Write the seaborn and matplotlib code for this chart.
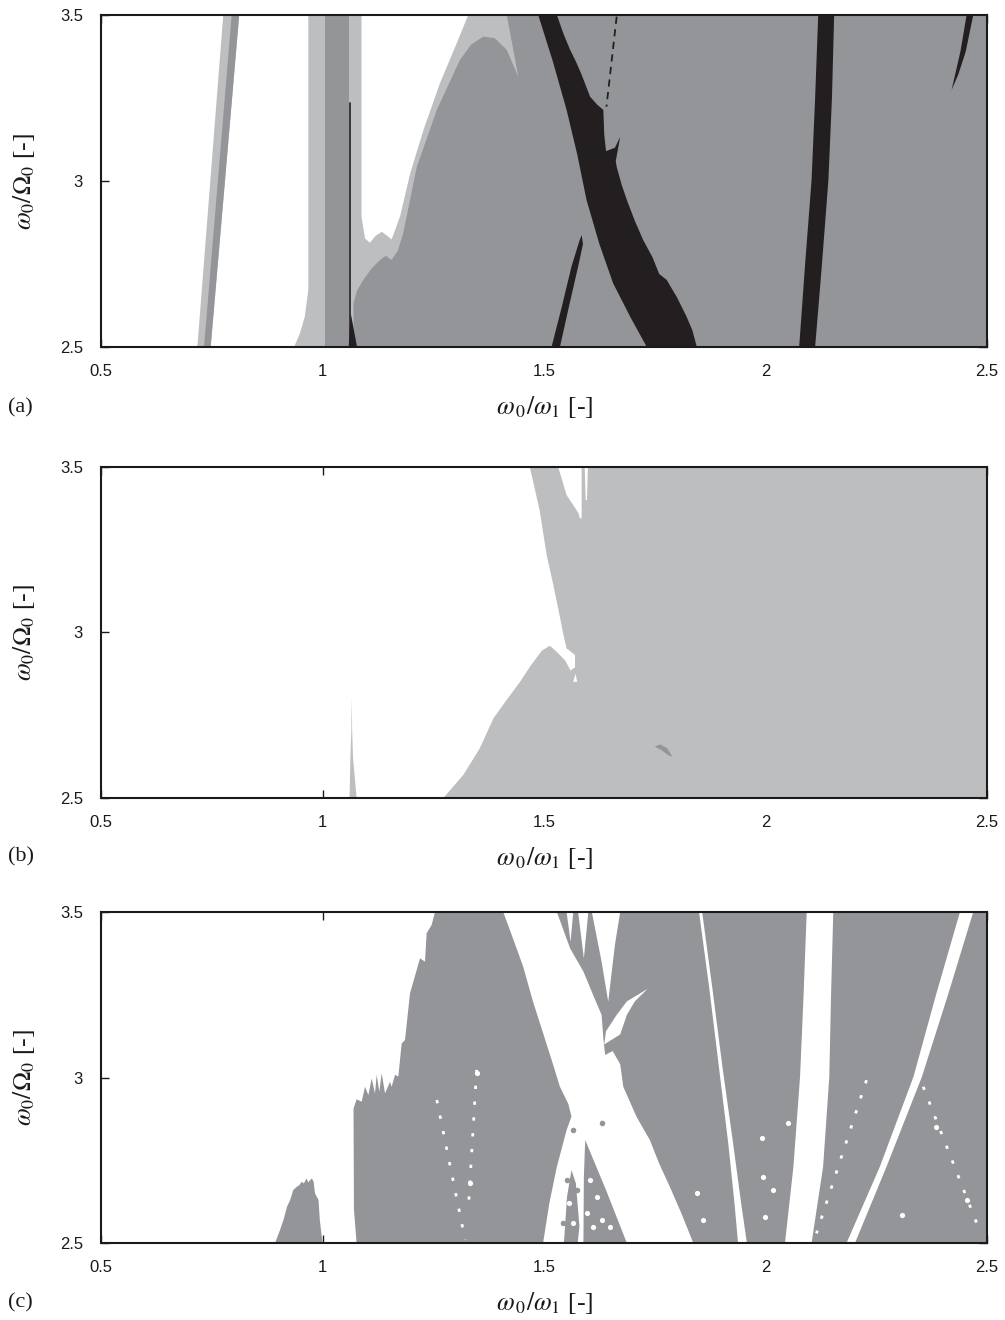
import numpy as np
import matplotlib
matplotlib.use("Agg")
import matplotlib.pyplot as plt
import seaborn as sns

# ---------------- colours ----------------
DARK = "#939598"
LIGHT = "#bcbec0"
BLACK = "#231f20"

# ---------------- axes / ticks ----------------
X_TICKS = [0.5, 1, 1.5, 2, 2.5]
X_TICKLABELS = ["0.5", "1", "1.5", "2", "2.5"]
Y_TICKS = [2.5, 3, 3.5]
Y_TICKLABELS = ["2.5", "3", "3.5"]
PANEL_LABELS = ["(a)", "(b)", "(c)"]
XLABEL = r"$\omega_{\,0}/\omega_1$ [-]"
YLABEL = r"$\omega_0/\Omega_0$ [-]"

# ---------------- panel (a) regions ----------------
A_BAND_LIGHT_X = [0.7175, 0.776, 0.812, 0.7476]
A_BAND_LIGHT_Y = [2.5, 3.5, 3.5, 2.5]
A_BAND_DARK_X = [0.7325, 0.795, 0.812, 0.7476]
A_BAND_DARK_Y = [2.5, 3.5, 3.5, 2.5]

A_LIGHT_X = [0.936, 0.949, 0.960, 0.968, 0.968, 2.5, 2.5]
A_LIGHT_Y = [2.5, 2.541, 2.591, 2.672, 3.5, 3.5, 2.5]

A_DARKBAND_X = [1.006, 1.006, 1.060, 1.060]
A_DARKBAND_Y = [2.5, 3.5, 3.5, 2.5]

A_WHITE_X = [1.088, 1.088, 1.096, 1.107, 1.120, 1.134, 1.146, 1.156, 1.175,
             1.198, 1.228, 1.265, 1.303, 1.329]
A_WHITE_Y = [3.5, 2.893, 2.827, 2.814, 2.835, 2.847, 2.835, 2.824, 2.893,
             3.023, 3.154, 3.294, 3.415, 3.5]

A_DARK_X = [1.070, 2.5, 2.5, 1.416, 1.442, 1.416, 1.389, 1.363, 1.335, 1.310,
            1.258, 1.213, 1.182, 1.170, 1.156, 1.143, 1.130, 1.110, 1.092,
            1.078, 1.070]
A_DARK_Y = [2.5, 2.5, 3.5, 3.5, 3.314, 3.395, 3.430, 3.435, 3.41, 3.364,
            3.214, 3.043, 2.842, 2.79, 2.762, 2.775, 2.762, 2.735, 2.702,
            2.67, 2.632]

A_BLINE_X = [1.062, 1.062]
A_BLINE_Y = [2.5, 3.235]
A_BTRI_X = [1.059, 1.064, 1.078]
A_BTRI_Y = [2.5, 2.6, 2.5]

A_BLACK1_X = [1.487, 1.520, 1.551, 1.575, 1.596, 1.625, 1.656, 1.695, 1.732,
              1.845, 1.835, 1.822, 1.800, 1.777, 1.760, 1.745, 1.724, 1.705,
              1.687, 1.675, 1.664, 1.662, 1.672, 1.660, 1.640, 1.636, 1.634,
              1.620, 1.604, 1.585, 1.572, 1.559, 1.545, 1.529]
A_BLACK1_Y = [3.5, 3.36, 3.214, 3.08, 2.943, 2.81, 2.692, 2.59, 2.5,
              2.5, 2.55, 2.591, 2.65, 2.702, 2.72, 2.77, 2.822, 2.88,
              2.943, 2.99, 3.043, 3.06, 3.133, 3.10, 3.09, 3.14, 3.214,
              3.23, 3.254, 3.32, 3.36, 3.395, 3.44, 3.5]

A_BLACK2_X = [1.517, 1.540, 1.562, 1.580, 1.585, 1.588, 1.577, 1.556, 1.536]
A_BLACK2_Y = [2.5, 2.62, 2.742, 2.82, 2.837, 2.81, 2.742, 2.62, 2.5]

A_DASH_X = [1.664, 1.641]
A_DASH_Y = [3.495, 3.224]

A_BLACK3_X = [2.076, 2.089, 2.104, 2.112, 2.119, 2.155, 2.150, 2.142, 2.127, 2.112]
A_BLACK3_Y = [2.5, 2.742, 3.003, 3.25, 3.5, 3.5, 3.25, 3.003, 2.742, 2.5]

A_BLACK4_X = [2.454, 2.469, 2.452, 2.435, 2.420, 2.440]
A_BLACK4_Y = [3.5, 3.5, 3.39, 3.32, 3.274, 3.39]

# ---------------- panel (b) regions ----------------
B_LIGHT_X = [1.468, 1.490, 1.506, 1.520, 1.532, 1.544, 1.551, 1.570, 1.570,
             1.560, 1.548, 1.530, 1.513, 1.495, 1.470, 1.446, 1.415, 1.386,
             1.355, 1.318, 1.273, 2.5, 2.5]
B_LIGHT_Y = [3.5, 3.37, 3.234, 3.15, 3.073, 2.992, 2.952, 2.932, 2.895,
             2.885, 2.915, 2.940, 2.960, 2.945, 2.90, 2.851, 2.795, 2.741,
             2.650, 2.570, 2.5, 2.5, 3.5]
B_POCKET_X = [1.532, 1.541, 1.551, 1.566, 1.578, 1.581, 1.585, 1.585]
B_POCKET_Y = [3.5, 3.46, 3.415, 3.385, 3.36, 3.345, 3.345, 3.5]
B_SLIVER_X = [1.592, 1.599, 1.597, 1.594]
B_SLIVER_Y = [3.5, 3.5, 3.40, 3.40]
B_TRI_X = [1.566, 1.575, 1.571]
B_TRI_Y = [2.851, 2.851, 2.875]
B_SPIKE_X = [1.061, 1.063, 1.065, 1.066, 1.067, 1.069, 1.077]
B_SPIKE_Y = [2.5, 2.62, 2.70, 2.802, 2.70, 2.62, 2.5]
B_SPOT_X = [1.750, 1.762, 1.778, 1.790, 1.782, 1.765]
B_SPOT_Y = [2.655, 2.662, 2.650, 2.625, 2.628, 2.645]

# ---------------- panel (c) regions ----------------
C_LUMP_X = [0.893, 0.904, 0.912, 0.920, 0.927, 0.934, 0.942, 0.948, 0.953,
            0.958, 0.964, 0.968, 0.972, 0.976, 0.980, 0.983, 0.991, 0.994, 1.0]
C_LUMP_Y = [2.5, 2.539, 2.57, 2.61, 2.630, 2.660, 2.670, 2.675, 2.685,
            2.68, 2.695, 2.683, 2.69, 2.695, 2.685, 2.650, 2.630, 2.569, 2.5]

C_MAIN_X = [1.077, 1.071, 1.070, 1.077, 1.0884, 1.0959, 1.1035, 1.1110, 1.1185,
            1.1223, 1.1283, 1.1336, 1.1411, 1.1524, 1.1561, 1.1637, 1.1712,
            1.1787, 1.1862, 1.1975, 1.2201, 1.2314, 1.2351, 1.2464, 1.2540,
            2.5, 2.5]
C_MAIN_Y = [2.5, 2.6, 2.906, 2.934, 2.927, 2.972, 2.947, 2.997, 2.952,
            3.008, 2.957, 3.013, 2.952, 2.987, 2.972, 3.008, 3.003,
            3.103, 3.113, 3.254, 3.360, 3.350, 3.436, 3.461, 3.5,
            3.5, 2.5]

C_X_X = [1.408, 1.430, 1.453, 1.475, 1.498, 1.518, 1.536, 1.555, 1.562, 1.551,
         1.529, 1.512, 1.498, 1.589, 1.590, 1.593, 1.640, 1.687, 1.837, 1.810,
         1.784, 1.760, 1.739, 1.709, 1.679, 1.672, 1.655, 1.638, 1.634, 1.630,
         1.611, 1.589, 1.559, 1.529]
C_X_Y = [3.5, 3.42, 3.335, 3.23, 3.134, 3.05, 2.972, 2.92, 2.882, 2.841,
         2.730, 2.62, 2.5, 2.5, 2.70, 2.811, 2.66, 2.5, 2.5, 2.59,
         2.670, 2.74, 2.811, 2.881, 2.972, 3.04, 3.08, 3.068, 3.118, 3.189,
         3.249, 3.320, 3.390, 3.5]

C_SLOT1_X = [1.551, 1.566, 1.560]
C_SLOT1_Y = [3.5, 3.5, 3.41]
C_SLOT2_X = [1.577, 1.600, 1.590]
C_SLOT2_Y = [3.5, 3.5, 3.36]
C_WEDGE_X = [1.608, 1.672, 1.660, 1.645, 1.630]
C_WEDGE_Y = [3.5, 3.5, 3.40, 3.229, 3.35]
C_SLIVER_X = [1.636, 1.672, 1.687, 1.705, 1.734, 1.687, 1.664, 1.640]
C_SLIVER_Y = [3.10, 3.13, 3.189, 3.23, 3.268, 3.23, 3.189, 3.14]
C_FRAG_X = [1.545, 1.552, 1.562, 1.572, 1.580, 1.576]
C_FRAG_Y = [2.5, 2.64, 2.72, 2.68, 2.55, 2.5]

C_STREAK_X = [1.850, 1.873, 1.895, 1.916, 1.930, 1.938, 1.958, 1.945, 1.927,
              1.903, 1.880, 1.857]
C_STREAK_Y = [3.5, 3.27, 3.03, 2.80, 2.62, 2.5, 2.5, 2.62, 2.80, 3.03, 3.27, 3.5]

C_VBAND_X = [2.044, 2.063, 2.078, 2.086, 2.093, 2.153, 2.148, 2.144, 2.130, 2.104]
C_VBAND_Y = [2.5, 2.730, 3.002, 3.25, 3.5, 3.5, 3.25, 3.002, 2.730, 2.5]

C_DIAG_X = [2.183, 2.258, 2.334, 2.385, 2.439, 2.469, 2.412, 2.353, 2.273, 2.202]
C_DIAG_Y = [2.5, 2.730, 3.002, 3.25, 3.5, 3.5, 3.25, 3.002, 2.730, 2.5]

C_DOT1_X = [1.258, 1.322]
C_DOT1_Y = [2.932, 2.509]
C_DOT2_X = [1.348, 1.329]
C_DOT2_Y = [3.023, 2.600]
C_DOT3_X = [2.228, 2.115]
C_DOT3_Y = [2.992, 2.529]
C_DOT4_X = [2.356, 2.477]
C_DOT4_Y = [2.972, 2.559]

C_WSPECK_X = [1.604, 1.619, 1.630, 1.649, 1.611, 1.664, 1.596, 1.845, 1.860,
              1.991, 1.995, 2.018, 1.999, 2.051, 2.307, 2.386, 2.454, 1.348,
              1.333, 1.556, 1.566]
C_WSPECK_Y = [2.690, 2.640, 2.570, 2.549, 2.549, 2.610, 2.590, 2.650, 2.570,
              2.816, 2.700, 2.660, 2.579, 2.862, 2.585, 2.851, 2.630, 3.013,
              2.680, 2.62, 2.56]
C_GSPECK_X = [1.551, 1.544, 1.574, 1.566, 1.630]
C_GSPECK_Y = [2.690, 2.560, 2.660, 2.841, 2.862]

# ---------------- style ----------------
sns.set_theme(style="ticks")
plt.rcParams["font.family"] = ["Liberation Sans", "DejaVu Sans"]
plt.rcParams["mathtext.fontset"] = "stix"
plt.rcParams["axes.linewidth"] = 1.5
plt.rcParams["axes.edgecolor"] = "#1a1a1a"

fig = plt.figure(figsize=(10.05, 13.2), dpi=100)
L, R = 101 / 1005, 987 / 1005
tops_px = [15, 467, 912]
bots_px = [347, 798, 1243]
label_y_px = [408, 857, 1303]

axes = []
for t, b in zip(tops_px, bots_px):
    ax = fig.add_axes([L, 1 - b / 1320, R - L, (b - t) / 1320])
    axes.append(ax)


def poly(ax, xs, ys, color, z):
    ax.fill(xs, ys, color=color, lw=0, zorder=z)


# panel (a)
ax = axes[0]
poly(ax, A_BAND_LIGHT_X, A_BAND_LIGHT_Y, LIGHT, 1)
poly(ax, A_BAND_DARK_X, A_BAND_DARK_Y, DARK, 2)
poly(ax, A_LIGHT_X, A_LIGHT_Y, LIGHT, 1)
poly(ax, A_DARKBAND_X, A_DARKBAND_Y, DARK, 2)
poly(ax, A_WHITE_X, A_WHITE_Y, "white", 2)
poly(ax, A_DARK_X, A_DARK_Y, DARK, 3)
sns.lineplot(x=A_BLINE_X, y=A_BLINE_Y, sort=False, estimator=None, ax=ax,
             color=BLACK, lw=1.2, zorder=4)
poly(ax, A_BTRI_X, A_BTRI_Y, BLACK, 4)
poly(ax, A_BLACK1_X, A_BLACK1_Y, BLACK, 4)
poly(ax, A_BLACK2_X, A_BLACK2_Y, BLACK, 4)
ax.plot(A_DASH_X, A_DASH_Y, color=BLACK, lw=1.3, ls=(0, (4, 3)), zorder=4)
poly(ax, A_BLACK3_X, A_BLACK3_Y, BLACK, 4)
poly(ax, A_BLACK4_X, A_BLACK4_Y, BLACK, 4)

# panel (b)
ax = axes[1]
poly(ax, B_LIGHT_X, B_LIGHT_Y, LIGHT, 1)
poly(ax, B_POCKET_X, B_POCKET_Y, "white", 2)
poly(ax, B_SLIVER_X, B_SLIVER_Y, "white", 2)
poly(ax, B_TRI_X, B_TRI_Y, "white", 2)
poly(ax, B_SPIKE_X, B_SPIKE_Y, LIGHT, 2)
poly(ax, B_SPOT_X, B_SPOT_Y, DARK, 3)

# panel (c)
ax = axes[2]
poly(ax, C_LUMP_X, C_LUMP_Y, DARK, 1)
poly(ax, C_MAIN_X, C_MAIN_Y, DARK, 1)
for xs, ys in [(C_X_X, C_X_Y), (C_SLOT1_X, C_SLOT1_Y), (C_SLOT2_X, C_SLOT2_Y),
               (C_WEDGE_X, C_WEDGE_Y), (C_SLIVER_X, C_SLIVER_Y),
               (C_STREAK_X, C_STREAK_Y), (C_VBAND_X, C_VBAND_Y),
               (C_DIAG_X, C_DIAG_Y)]:
    poly(ax, xs, ys, "white", 2)
poly(ax, C_FRAG_X, C_FRAG_Y, DARK, 3)
for xs, ys in [(C_DOT1_X, C_DOT1_Y), (C_DOT2_X, C_DOT2_Y),
               (C_DOT3_X, C_DOT3_Y), (C_DOT4_X, C_DOT4_Y)]:
    ax.plot(xs, ys, color="white", lw=2.0, ls=(0, (1.2, 4.5)), zorder=4)
sns.scatterplot(x=C_WSPECK_X, y=C_WSPECK_Y, ax=ax, color="white", s=14,
                marker="o", linewidth=0, zorder=5)
sns.scatterplot(x=C_GSPECK_X, y=C_GSPECK_Y, ax=ax, color=DARK, s=16,
                marker="o", linewidth=0, zorder=5)

for ax, lab, ly in zip(axes, PANEL_LABELS, label_y_px):
    ax.set_xlim(0.5, 2.5)
    ax.set_ylim(2.5, 3.5)
    ax.set_facecolor("white")
    ax.set_xticks(X_TICKS)
    ax.set_xticklabels(X_TICKLABELS)
    ax.set_yticks(Y_TICKS)
    ax.set_yticklabels(Y_TICKLABELS)
    ax.tick_params(direction="in", top=True, right=True, length=6, width=1,
                   labelsize=12, color="#1a1a1a", labelcolor="#1a1a1a")
    ax.tick_params(axis="x", pad=12)
    ax.tick_params(axis="y", pad=13)
    ax.set_xlabel(XLABEL, fontsize=18.5, family=["Liberation Serif"],
                  color="#1a1a1a")
    ax.set_ylabel(YLABEL, fontsize=18.5, family=["Liberation Serif"],
                  color="#1a1a1a")
    ax.xaxis.set_label_coords(0.501, -0.143)
    ax.yaxis.set_label_coords(-0.087, 0.5)
    ax.yaxis.label.set_va("center")
    for s in ax.spines.values():
        s.set_zorder(10)
    fig.text(0.008, 1 - ly / 1320, lab, fontsize=16, family=["Liberation Serif"],
             va="center", ha="left", color="#1a1a1a")

fig.savefig("out.png", dpi=100)
